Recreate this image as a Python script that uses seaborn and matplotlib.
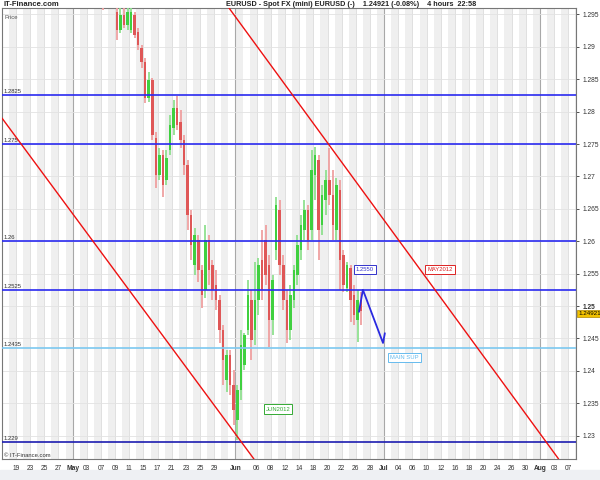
import numpy as np
import matplotlib
matplotlib.use("Agg")
import matplotlib.pyplot as plt
import seaborn as sns

# trading-day index: 0 = Apr 19 2012, weekends removed
tick_days = [0, 2, 4, 6, 8, 10, 12, 14, 16, 18, 20, 22, 24, 26, 28, 31, 34, 36, 38, 40,
             42, 44, 46, 48, 50, 52, 54, 56, 58, 60, 62, 64, 66, 68, 70, 72, 74, 76, 78]
tick_names = ["19", "23", "25", "27", "May", "03", "07", "09", "11", "15", "17", "21", "23",
              "25", "29", "Jun", "06", "08", "12", "14", "18", "20", "22", "26", "28", "Jul",
              "04", "06", "10", "12", "16", "18", "20", "24", "26", "30", "Aug", "03", "07"]
month_names = ["May", "Jun", "Jul", "Aug"]

price_ticks = [1.23, 1.235, 1.24, 1.245, 1.25, 1.255, 1.26, 1.265, 1.27, 1.275, 1.28,
               1.285, 1.29, 1.295]
price_labels = ["1.23", "1.235", "1.24", "1.245", "1.25", "1.255", "1.26", "1.265", "1.27",
                "1.275", "1.28", "1.285", "1.29", "1.295"]

# half-day bars from May 7
first_bar = 12.25
bar_open = [1.3010, 1.2990, 1.3020, 1.2995,
            1.2954, 1.2926, 1.2949, 1.2934, 1.2926, 1.2949, 1.2923, 1.2898, 1.2877, 1.2821,
            1.2849, 1.2759, 1.2702, 1.2733, 1.2694, 1.2741, 1.2775, 1.2806, 1.2784, 1.2756,
            1.2718, 1.2640, 1.2563, 1.2602, 1.2556, 1.2525, 1.2602, 1.2563, 1.2532, 1.2509,
            1.2463, 1.2386, 1.2424, 1.2378, 1.2324, 1.2370, 1.2409, 1.2463, 1.2509, 1.2463,
            1.2509, 1.2571, 1.2602, 1.2563, 1.2478, 1.2586, 1.2648, 1.2563, 1.2509, 1.2463,
            1.2509, 1.2548, 1.2586, 1.2617, 1.2648, 1.2617, 1.2702, 1.2725, 1.2625, 1.2664,
            1.2694, 1.2671, 1.2617, 1.2679, 1.2579, 1.2528, 1.2559, 1.2517, 1.2478, 1.2509]
bar_high = [1.3030, 1.3040, 1.3035, 1.3010,
            1.2972, 1.2960, 1.2965, 1.2963, 1.2960, 1.2954, 1.2929, 1.2903, 1.2883, 1.2861,
            1.2852, 1.2769, 1.2744, 1.2741, 1.2741, 1.2795, 1.2818, 1.2824, 1.2802, 1.2764,
            1.2725, 1.2648, 1.2620, 1.2610, 1.2563, 1.2625, 1.2610, 1.2571, 1.2556, 1.2517,
            1.2471, 1.2432, 1.2432, 1.2401, 1.2378, 1.2463, 1.2458, 1.2540, 1.2525, 1.2568,
            1.2574, 1.2617, 1.2625, 1.2579, 1.2548, 1.2668, 1.2664, 1.2579, 1.2525, 1.2532,
            1.2563, 1.2610, 1.2640, 1.2664, 1.2656, 1.2741, 1.2745, 1.2733, 1.2687, 1.2710,
            1.2744, 1.2710, 1.2698, 1.2694, 1.2586, 1.2568, 1.2563, 1.2532, 1.2525, 1.2522]
bar_low = [1.2957, 1.2975, 1.2970, 1.2975,
           1.2910, 1.2921, 1.2929, 1.2926, 1.2921, 1.2914, 1.2895, 1.2867, 1.2813, 1.2815,
           1.2756, 1.2682, 1.2694, 1.2668, 1.2687, 1.2733, 1.2764, 1.2772, 1.2744, 1.2702,
           1.2617, 1.2571, 1.2548, 1.2537, 1.2497, 1.2512, 1.2532, 1.2509, 1.2494, 1.2443,
           1.2378, 1.2367, 1.2363, 1.2316, 1.2293, 1.2355, 1.2401, 1.2455, 1.2417, 1.2440,
           1.2486, 1.2509, 1.2532, 1.2437, 1.2455, 1.2571, 1.2548, 1.2494, 1.2443, 1.2448,
           1.2497, 1.2532, 1.2571, 1.2602, 1.2586, 1.2602, 1.2664, 1.2571, 1.2610, 1.2640,
           1.2656, 1.2602, 1.2602, 1.2525, 1.2522, 1.2522, 1.2475, 1.2471, 1.2444, 1.2471]
bar_close = [1.2990, 1.3020, 1.2995, 1.2975,
             1.2926, 1.2949, 1.2934, 1.2954, 1.2954, 1.2918, 1.2903, 1.2877, 1.2821, 1.2849,
             1.2764, 1.2702, 1.2733, 1.2687, 1.2728, 1.2779, 1.2806, 1.2779, 1.2756, 1.2718,
             1.2640, 1.2594, 1.2610, 1.2556, 1.2517, 1.2602, 1.2556, 1.2525, 1.2509, 1.2463,
             1.2417, 1.2424, 1.2378, 1.2340, 1.2370, 1.2440, 1.2455, 1.2517, 1.2448, 1.2509,
             1.2563, 1.2525, 1.2548, 1.2478, 1.2540, 1.2656, 1.2563, 1.2509, 1.2463, 1.2517,
             1.2556, 1.2594, 1.2625, 1.2648, 1.2602, 1.2710, 1.2733, 1.2617, 1.2671, 1.2694,
             1.2671, 1.2625, 1.2687, 1.2571, 1.2532, 1.2563, 1.2509, 1.2486, 1.2509, 1.2492]
last_price = 1.24921

# horizontal levels
blue_levels = [1.2825, 1.275, 1.26, 1.2525]
blue_names = ["1.2825", "1.275", "1.26", "1.2525"]
support_level = 1.2435
floor_level = 1.229

# channel lines, two points each (day, price)
lower_channel = [(-1.98, 1.2790), (31.64, 1.2293)]
upper_channel = [(30.08, 1.2960), (75.70, 1.2278)]

# projected path
proj_days = [48.45, 49.0, 51.84, 52.1]
proj_prices = [1.2491, 1.2525, 1.2443, 1.2458]

sns.set_style("white")
plt.rcParams["font.family"] = ["Liberation Sans", "DejaVu Sans"]

fig = plt.figure(figsize=(6, 4.8), dpi=100)
fig.patch.set_facecolor("white")
fig.patches.append(plt.Rectangle((0, 0), 1, 10 / 480, transform=fig.transFigure,
                                 color="#eef0f3", zorder=-1))
ax = fig.add_axes([2 / 600, 1 - 459 / 480, 574 / 600, 451 / 480])
ax.set_xlim(-1.977, 79.1)
ax.set_ylim(1.22639, 1.29599)

# alternate day shading and grid
for d in range(-2, 80):
    if d % 2 == 1:
        ax.axvspan(d, d + 1, color="#efefef", lw=0, zorder=0)
for d, name in zip(tick_days, tick_names):
    if name in month_names:
        ax.axvline(d, color="#a8a8a8", lw=0.8, zorder=1)
    else:
        ax.axvline(d, color="#dadada", lw=0.6, zorder=1)
for p in price_ticks:
    ax.axhline(p, color="#e2e2e2", lw=0.6, zorder=1)

# candles
o = np.array(bar_open)
h = np.array(bar_high)
lo = np.array(bar_low)
c = np.array(bar_close)
pos = first_bar + 0.5 * np.arange(len(o))
up = c >= o
wick_col = np.where(up, "#8fe08f", "#efa0a0")
body_col = np.where(up, "#3fd03f", "#df5757")
ax.vlines(pos, lo, h, colors=wick_col, lw=1.3, zorder=3)
body = np.maximum(np.abs(c - o), 0.00012)
ax.bar(pos, body, bottom=np.minimum(o, c), width=0.36, color=body_col, lw=0, zorder=4)

# levels
for lv, nm in zip(blue_levels, blue_names):
    ax.axhline(lv, color="#2a2af0", lw=1.2, zorder=5)
    ax.text(-1.75, lv + 0.0002, nm, fontsize=4.2, color="#333333", va="bottom", zorder=6)
ax.axhline(support_level, color="#7cc8f0", lw=1.2, zorder=5)
ax.text(-1.75, support_level + 0.0002, "1.2435", fontsize=4.2, color="#333333", va="bottom")
ax.axhline(floor_level, color="#1c1cb0", lw=1.2, zorder=5)
ax.text(-1.75, floor_level + 0.0002, "1.229", fontsize=4.2, color="#333333", va="bottom")

# channels
ax.axline(lower_channel[0], lower_channel[1], color="#ee1111", lw=1.0, zorder=6)
ax.axline(upper_channel[0], upper_channel[1], color="#ee1111", lw=1.0, zorder=6)

# projection
sns.lineplot(x=proj_days, y=proj_prices, sort=False, estimator=None, color="#2a2ae0",
             lw=1.3, ax=ax, zorder=7)

# boxed notes
notes = [(49.3, 1.2557, "1.2550", "#3333cc"),
         (59.9, 1.2556, "MAY2012", "#dd2222"),
         (37.0, 1.2341, "JUN2012", "#33aa33"),
         (54.9, 1.2421, "MAIN SUP", "#66bbee")]
for nx, ny, txt, col in notes:
    ax.text(nx, ny, txt, fontsize=4.2, color=col, ha="center", va="center", zorder=8,
            bbox=dict(boxstyle="square,pad=0.35", fc="white", ec=col, lw=0.7))

# axes styling
ax.yaxis.tick_right()
ax.set_yticks(price_ticks)
ax.set_yticklabels(price_labels)
ax.set_xticks(tick_days)
ax.set_xticklabels(tick_names)
ax.tick_params(axis="both", labelsize=4.8, colors="#333333", length=2.5, width=0.6,
               direction="out", pad=2)
for lab in ax.get_xticklabels():
    if lab.get_text() in month_names:
        lab.set_fontweight("bold")
for lab in ax.get_yticklabels():
    if lab.get_text() == "1.25":
        lab.set_fontweight("bold")
for sp in ax.spines.values():
    sp.set_color("#777777")
    sp.set_linewidth(0.8)
ax.set_xlabel("")
ax.set_ylabel("")

ax.text(1.004, last_price - 0.0004, "1.24921", transform=ax.get_yaxis_transform(),
        fontsize=4.5, color="black", va="center", ha="left",
        bbox=dict(boxstyle="square,pad=0.15", fc="#f2c200", ec="#b08800", lw=0.5))
ax.text(0.005, 0.985, "Price", transform=ax.transAxes, fontsize=4.2, color="#555555",
        va="top")
ax.text(0.003, 0.003, "\u00a9 IT-Finance.com", transform=ax.transAxes, fontsize=4.2,
        color="#333333", va="bottom")

fig.text(0.006, 1 - 5 / 480, "IT-Finance.com", fontsize=5.5, fontweight="bold",
         color="#222222", va="center")
fig.text(0.377, 1 - 5 / 480,
         "EURUSD - Spot FX (mini) EURUSD (-)    1.24921 (-0.08%)    4 hours  22:58",
         fontsize=5.2, fontweight="bold", color="#222222", va="center")

fig.savefig("out.png", dpi=100)
